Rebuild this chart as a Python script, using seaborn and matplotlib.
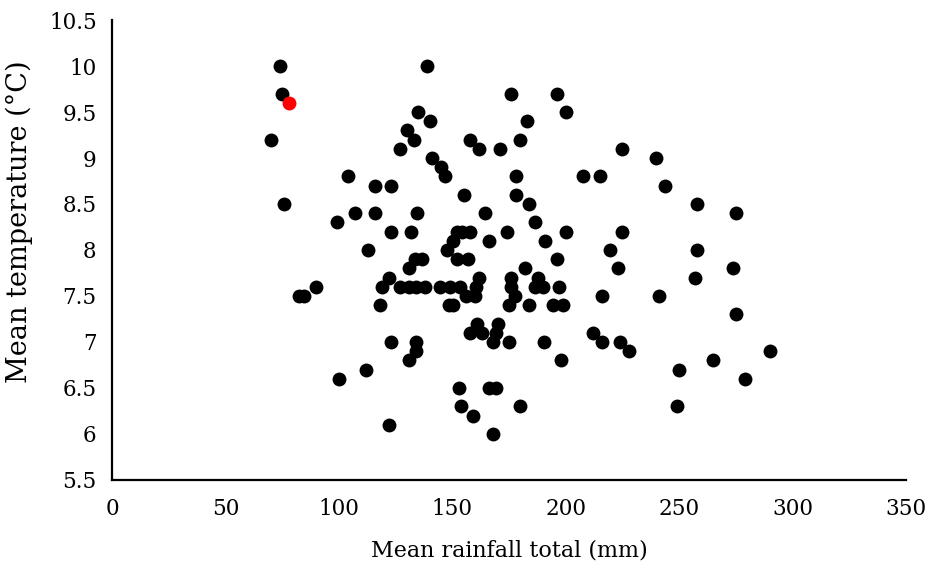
import matplotlib
matplotlib.use("Agg")
import matplotlib.pyplot as plt
import seaborn as sns
import pandas as pd

# --- data ---
rainfall = [
    74, 75, 70,
    139, 176, 196, 135, 200, 140, 183, 130, 133, 158, 180,
    127, 162, 171, 225, 141, 240, 145,
    104, 147, 178, 207.5, 215, 116, 123, 244, 155, 178,
    76, 184, 258, 107, 116, 134.5, 164.5, 275, 99, 186.5,
    123, 132, 152, 154.5, 158, 174, 200, 225,
    150.5, 166, 191, 113, 147.5, 219.5, 258,
    133.5, 136.5, 152, 157, 196, 131, 182, 223, 273.6,
    122, 162, 176, 188, 257,
    90, 119, 127, 131, 134, 138, 144.5, 149, 153.5, 160.5, 176, 186.5, 190, 197,
    82.5, 84.5, 156, 160, 177.5, 216, 241,
    118, 148.5, 150.5, 175, 184, 194.5, 199,
    275, 161, 170, 158, 163, 169.5, 212,
    123, 134, 168, 175, 190.5, 216, 224,
    134, 228, 290, 131, 198, 265, 112, 250, 100, 279,
    153, 166, 169.5, 154, 180, 249, 159, 122, 168,
]
temperature = [
    10.0, 9.7, 9.2,
    10.0, 9.7, 9.7, 9.5, 9.5, 9.4, 9.4, 9.3, 9.2, 9.2, 9.2,
    9.1, 9.1, 9.1, 9.1, 9.0, 9.0, 8.9,
    8.8, 8.8, 8.8, 8.8, 8.8, 8.7, 8.7, 8.7, 8.6, 8.6,
    8.5, 8.5, 8.5, 8.4, 8.4, 8.4, 8.4, 8.4, 8.3, 8.3,
    8.2, 8.2, 8.2, 8.2, 8.2, 8.2, 8.2, 8.2,
    8.1, 8.1, 8.1, 8.0, 8.0, 8.0, 8.0,
    7.9, 7.9, 7.9, 7.9, 7.9, 7.8, 7.8, 7.8, 7.8,
    7.7, 7.7, 7.7, 7.7, 7.7,
    7.6, 7.6, 7.6, 7.6, 7.6, 7.6, 7.6, 7.6, 7.6, 7.6, 7.6, 7.6, 7.6, 7.6,
    7.5, 7.5, 7.5, 7.5, 7.5, 7.5, 7.5,
    7.4, 7.4, 7.4, 7.4, 7.4, 7.4, 7.4,
    7.3, 7.2, 7.2, 7.1, 7.1, 7.1, 7.1,
    7.0, 7.0, 7.0, 7.0, 7.0, 7.0, 7.0,
    6.9, 6.9, 6.9, 6.8, 6.8, 6.8, 6.7, 6.7, 6.6, 6.6,
    6.5, 6.5, 6.5, 6.3, 6.3, 6.3, 6.2, 6.1, 6.0,
]
highlight_rainfall = [78]
highlight_temperature = [9.6]

x_ticks = [0, 50, 100, 150, 200, 250, 300, 350]
y_ticks = [5.5, 6, 6.5, 7, 7.5, 8, 8.5, 9, 9.5, 10, 10.5]
x_label = "Mean rainfall total (mm)"
y_label = "Mean temperature (°C)"

df = pd.DataFrame({"rain": rainfall, "temp": temperature})
hl = pd.DataFrame({"rain": highlight_rainfall, "temp": highlight_temperature})

sns.set_style("white")
plt.rcParams["font.family"] = ["DejaVu Serif"]

fig = plt.figure(figsize=(9.32, 5.64), dpi=100)
ax = fig.add_axes([0.1202, 0.149, 0.972 - 0.1202, 0.9645 - 0.149])

sns.scatterplot(data=df, x="rain", y="temp", ax=ax, color="black",
                s=100, linewidth=0, zorder=3)
sns.scatterplot(data=hl, x="rain", y="temp", ax=ax, color="#ff0000",
                s=100, linewidth=0, zorder=4)

ax.set_xlim(0, 350)
ax.set_ylim(5.5, 10.5)
ax.set_xticks(x_ticks)
ax.set_xticklabels([str(t) for t in x_ticks])
ax.set_yticks(y_ticks)
ax.set_yticklabels([("%g" % t) for t in y_ticks])

for side in ["top", "right"]:
    ax.spines[side].set_visible(False)
for side in ["left", "bottom"]:
    ax.spines[side].set_color("black")
    ax.spines[side].set_linewidth(1.6)

ax.tick_params(axis="both", which="major", direction="out", length=5,
               width=1.6, color="black", labelsize=15.5, labelcolor="black")
ax.tick_params(axis="y", pad=6)
ax.tick_params(axis="x", pad=8)

ax.set_xlabel(x_label, fontsize=16, color="black", labelpad=14)
ax.set_ylabel(y_label, fontsize=19.5, color="black")
ax.yaxis.set_label_coords(-0.100, 0.561)

fig.savefig("out.png", dpi=100, facecolor="white")
